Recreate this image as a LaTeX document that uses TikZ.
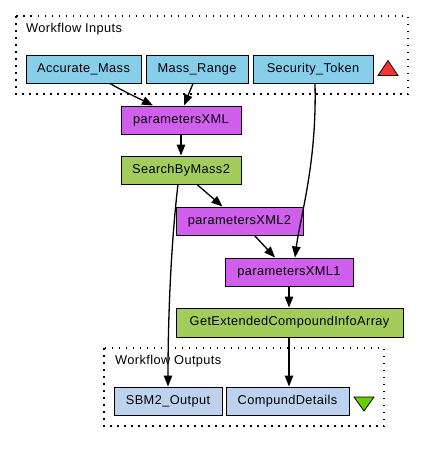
\documentclass[tikz,border=0pt]{standalone}
\usepackage{fontspec}
\setmainfont{Liberation Sans}[LetterSpace=3]
\usetikzlibrary{arrows.meta}
\definecolor{inblue}{HTML}{87CEEB}
\definecolor{outblue}{HTML}{BCD2EE}
\definecolor{purp}{HTML}{D15FEE}
\definecolor{grn}{HTML}{A2CD5A}
\definecolor{redtri}{HTML}{FF3030}
\definecolor{grntri}{HTML}{66CD00}
\tikzset{
  box/.style={draw=black, line width=1pt, minimum height=28pt, inner sep=0pt, font=\fontsize{12.8}{14}\selectfont},
  inbox/.style={box, fill=inblue},
  outbox/.style={box, fill=outblue},
  xmlbox/.style={box, fill=purp},
  procbox/.style={box, fill=grn},
  grp/.style={draw=black, line width=1.5pt, dash pattern=on 1.5pt off 5.5pt},
  grplabel/.style={anchor=west, inner sep=0pt, font=\fontsize{12.8}{14}\selectfont},
  conn/.style={line width=1.3pt, -{Triangle[length=11pt,width=8.5pt]}},
}
\begin{document}
\begin{tikzpicture}[x=1pt,y=-1pt]
\useasboundingbox (0,0) rectangle (424,453);
% groups
\draw[grp] (16,16) rectangle (408,94);
\node[grplabel] (inlab) at (26,29) {Workflow Inputs};
\draw[grp] (104,348) rectangle (384,426);
\node[grplabel] (outlab) at (115,361) {Workflow Outputs};
% inputs
\node[inbox, minimum width=115pt] (am) at (83.5,69) {Accurate\_Mass};
\node[inbox, minimum width=102pt] (mr) at (197,69) {Mass\_Range};
\node[inbox, minimum width=120pt] (st) at (313,69) {Security\_Token};
\draw[fill=redtri, line width=0.8pt] (378,75.5) -- (398,75.5) -- (388,60.5) -- cycle;
% processors
\node[xmlbox, minimum width=120pt] (px) at (181,120) {parametersXML};
\node[procbox, minimum width=120pt] (sbm) at (181,170) {SearchByMass2};
\node[xmlbox, minimum width=127pt] (px2) at (239.5,221) {parametersXML2};
\node[xmlbox, minimum width=128pt] (px1) at (289,272) {parametersXML1};
\node[procbox, minimum width=227pt, minimum height=29pt] (gec) at (289.5,322.5) {GetExtendedCompoundInfoArray};
% outputs
\node[outbox, minimum width=108pt] (sbo) at (168,401) {SBM2\_Output};
\node[outbox, minimum width=123pt] (cd) at (287.5,401) {CompundDetails};
\draw[fill=grntri, line width=0.8pt] (354,397) -- (374,397) -- (364,411) -- cycle;
% connectors
\draw[conn] ([xshift=26.5pt]am.south) .. controls +(10,6) and +(-12,-6) .. ([xshift=-28pt]px.north);
\draw[conn] ([xshift=-4pt]mr.south) -- ([xshift=3pt]px.north);
\draw[conn] ([xshift=2pt]st.south) .. controls +(2,80) and +(5,-40) .. ([xshift=6pt]px1.north);
\draw[conn] (px.south) -- (sbm.north);
\draw[conn] ([xshift=-3pt]sbm.south) .. controls +(-6,50) and +(0,-80) .. (sbo.north);
\draw[conn] ([xshift=16pt]sbm.south) -- ([xshift=-17pt]px2.north);
\draw[conn] ([xshift=15pt]px2.south) -- ([xshift=-14pt]px1.north);
\draw[conn] (px1.south) -- (px1.south |- gec.north);
\draw[conn] ([xshift=1.5pt]gec.south -| cd.north) -- ([xshift=1.5pt]cd.north);
\end{tikzpicture}
\end{document}
